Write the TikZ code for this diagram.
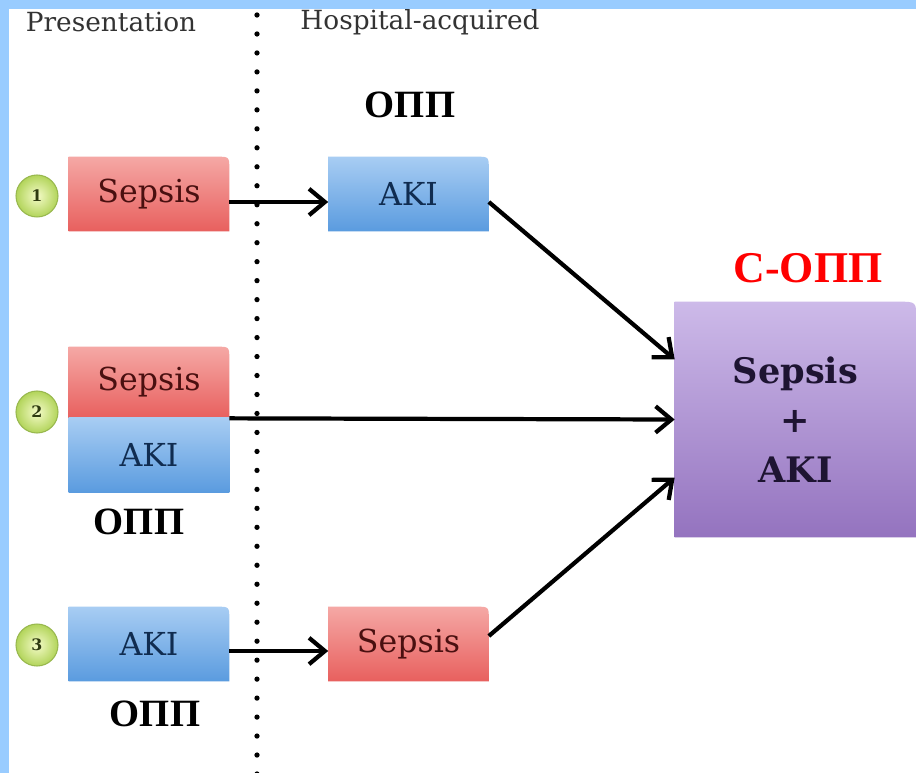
\documentclass[tikz,border=0pt]{standalone}
\usepackage{fontspec}
\setmainfont{DejaVu Serif}
\newfontfamily\rufont{Liberation Serif}
\usetikzlibrary{arrows.meta,calc,backgrounds}

\definecolor{edgeblue}{HTML}{99CCFF}
\definecolor{sepsistop}{HTML}{F5A8A5}
\definecolor{sepsisbot}{HTML}{E8605E}
\definecolor{sepsisink}{HTML}{4A1010}
\definecolor{akitop}{HTML}{A8CDF3}
\definecolor{akibot}{HTML}{5A9BDF}
\definecolor{akiink}{HTML}{102C50}
\definecolor{plumtop}{HTML}{CDBAE9}
\definecolor{plumbot}{HTML}{9473BF}
\definecolor{plumink}{HTML}{1E1432}
\definecolor{numin}{HTML}{F4FBC8}
\definecolor{numout}{HTML}{B2D45A}
\definecolor{numedge}{HTML}{98B84E}
\definecolor{numink}{HTML}{2E3A10}
\definecolor{headink}{HTML}{333333}

\tikzset{
  labelbox/.style={minimum width=3.2cm, minimum height=1.48cm, inner sep=0pt,
    font=\fontsize{18}{20}\selectfont},
  sepsistext/.style={labelbox, text=sepsisink},
  akitext/.style={labelbox, text=akiink},
  sepsisfill/.style={top color=sepsistop, bottom color=sepsisbot},
  akifill/.style={top color=akitop, bottom color=akibot},
  tabshape/.style 2 args={insert path={(#1.south west) -- (#1.north west)
    -- ($(#1.north east)+(-#2,0)$) .. controls (#1.north east) .. ($(#1.north east)+(0,#2)$)
    -- (#1.south east) -- cycle}},
  stepnum/.style={circle, minimum size=0.84cm, inner sep=0pt, draw=numedge,
    line width=0.6pt, inner color=numin, outer color=numout,
    font=\bfseries\fontsize{9}{9}\selectfont, text=numink},
  headtext/.style={font=\fontsize{15}{18}\selectfont, text=headink},
  opptext/.style={font=\rufont\bfseries\fontsize{22}{24}\selectfont},
  dotline/.style={line width=3pt, line cap=round, dash pattern=on 0pt off 10.8pt},
  flow/.style={->, line width=2.4pt},
}

\begin{document}
\begin{tikzpicture}[x=0.02cm, y=-0.02cm,
    >={Straight Barb[length=9pt, width=15pt, line width=2.4pt]}]

  \useasboundingbox (0,0) rectangle (916,773);

  % column headings and divider
  \node[headtext] (present) at (111,22) {Presentation};
  \node[headtext] (hospital) at (420,22) {Hospital-acquired};
  \draw[dotline] (257,15) -- (257,790);

  % case 1
  \node[stepnum] (n1) at (37,196) {1};
  \node[sepsistext] (s1) at (149,194) {Sepsis};
  \node[akitext] (a1) at (408.5,194) {AKI};
  \node[opptext] (o1) at (410,105) {ОПП};

  % case 2
  \node[stepnum] (n2) at (37,412) {2};
  \node[sepsistext, minimum height=1.42cm] (s2) at (149,382.5) {Sepsis};
  \node[akitext] (a2) at (149,455) {AKI};
  \node[opptext] (o2) at (139,522) {ОПП};

  % case 3
  \node[stepnum] (n3) at (37,645) {3};
  \node[akitext] (a3) at (149,644) {AKI};
  \node[sepsistext] (s3) at (408.5,644) {Sepsis};
  \node[opptext] (o3) at (155,714) {ОПП};

  % combined state
  \node[minimum width=4.82cm, minimum height=4.7cm, inner sep=0pt, align=center,
    text=plumink, font=\bfseries\fontsize{20}{28}\selectfont] (c) at (795.5,419.5)
    {Sepsis\\+\\AKI};
  \node[opptext, text=red, font=\rufont\bfseries\fontsize{25}{28}\selectfont] (co) at (808,268) {С-ОПП};

  \begin{scope}[on background layer]
    \fill[white] (0,0) rectangle (916,773);
    \fill[edgeblue] (0,0) rectangle (9,773);
    \fill[edgeblue] (0,0) rectangle (916,9);
    \shade[sepsisfill, tabshape={s1}{13}];
    \shade[akifill, tabshape={a1}{13}];
    \shade[sepsisfill, tabshape={s2}{13}];
    \shade[akifill] (a2.south west) rectangle (a2.north east);
    \shade[akifill, tabshape={a3}{13}];
    \shade[sepsisfill, tabshape={s3}{13}];
    \shade[top color=plumtop, bottom color=plumbot, tabshape={c}{18}];
  \end{scope}

  % transitions
  \draw[flow] ($(s1.east)+(0,8)$) -- ($(a1.west)+(0,8)$);
  \draw[flow] ($(a1.east)+(0,8)$) -- ($(c.west)+(0,-60)$);
  \draw[flow] (s2.south east) -- (c.west);
  \draw[flow] ($(a3.east)+(0,7)$) -- ($(s3.west)+(0,7)$);
  \draw[flow] ($(s3.east)+(0,-8)$) -- ($(c.west)+(0,58)$);
\end{tikzpicture}
\end{document}
